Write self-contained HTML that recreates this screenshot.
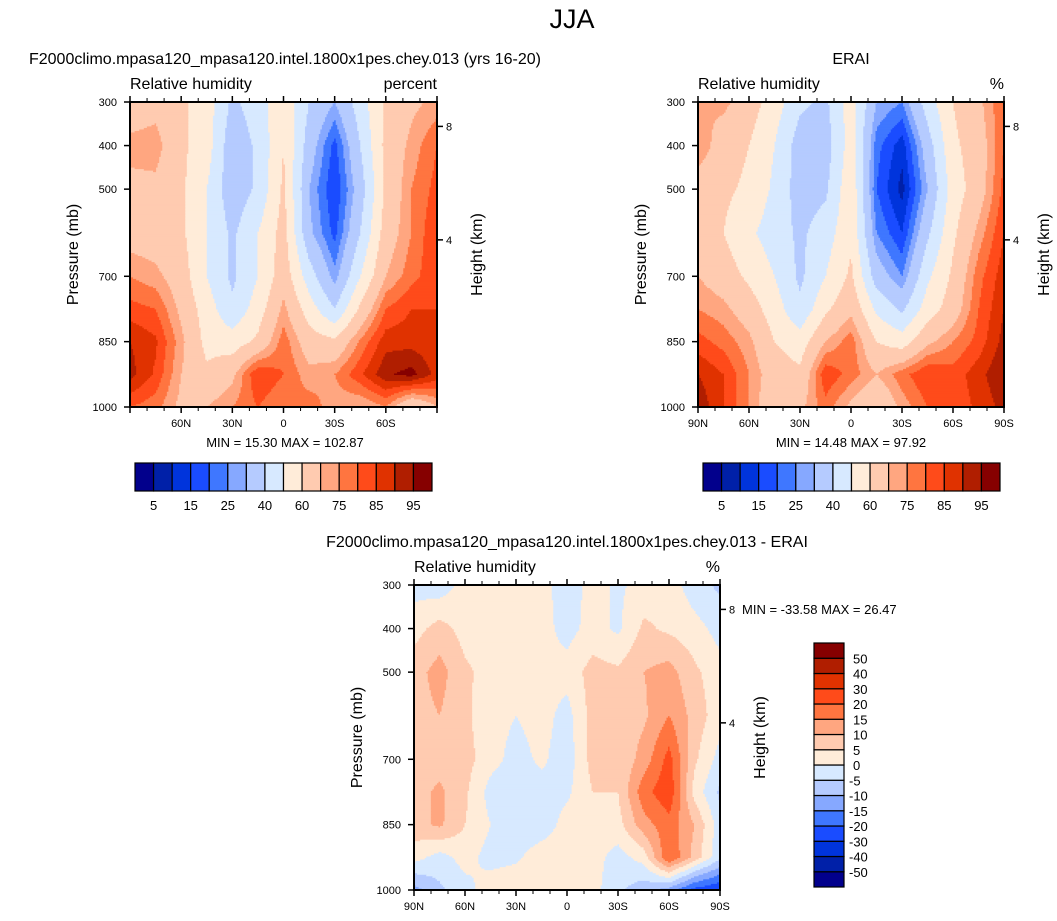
<!DOCTYPE html>
<html><head><meta charset="utf-8">
<style>
body{margin:0;background:#fff;}
svg{display:block;font-family:"Liberation Sans",sans-serif;}
</style></head>
<body>
<svg id="fig" width="1057" height="921" viewBox="0 0 1057 921" xmlns="http://www.w3.org/2000/svg">
<rect width="1057" height="921" fill="#fff"/>
<text x="572" y="28" font-size="27" text-anchor="middle">JJA</text>
<text x="285" y="64" font-size="16" text-anchor="middle">F2000climo.mpasa120_mpasa120.intel.1800x1pes.chey.013 (yrs 16-20)</text>
<text x="851" y="64" font-size="16" text-anchor="middle">ERAI</text>
<text x="567" y="547" font-size="16" text-anchor="middle">F2000climo.mpasa120_mpasa120.intel.1800x1pes.chey.013 - ERAI</text>
<g id="p1"></g>
<g id="p2"></g>
<g id="p3"></g>
</svg>
<script>
const NS="http://www.w3.org/2000/svg";
const lats=[90,75,60,45,30,15,0,-15,-30,-45,-60,-75,-90];
const plevs=[300,400,500,600,700,775,850,925,1000];
const rhModel=[
[65,67,62,55,38,45,58,40,30,45,62,68,72],
[72,73,62,55,33,42,60,35,18,40,63,72,80],
[68,68,62,50,33,42,62,30,15,35,62,75,82],
[66,65,62,50,38,50,64,32,18,40,65,75,85],
[75,72,65,50,38,50,66,45,27,50,70,78,84],
[82,80,68,55,42,55,72,55,40,62,80,85,85],
[90,86,72,57,55,62,78,65,62,76,88,88,86],
[92,84,70,62,68,85,80,72,75,84,94,97,88],
[80,77,68,70,75,80,75,78,72,70,75,60,70]];
const rhErai=[
[70,72,65,55,42,38,55,30,25,45,60,68,80],
[75,65,60,50,35,35,55,22,12,35,58,65,80],
[65,62,58,48,35,38,58,20,8,30,55,65,82],
[65,60,52,45,38,45,58,25,15,38,58,72,85],
[70,65,58,50,38,50,62,35,25,48,62,78,88],
[75,72,65,55,42,58,68,48,38,55,65,80,90],
[82,78,72,60,55,70,78,60,55,68,75,82,92],
[90,85,75,65,62,84,78,70,78,85,82,88,95],
[94,85,75,62,68,78,68,60,72,80,82,86,92]];
const rhDiff=[
[-2,-3,2,3,2,2,-3,2,-1,2,3,-3,-6],
[3,7,3,2,2,2,-2,2,-1,6,4,2,-2],
[8,12,6,3,2,2,2,7,6,10,12,6,2],
[8,10,6,2,0,2,-2,7,7,9,15,8,2],
[7,8,7,2,-2,1,-3,7,6,12,22,6,-2],
[8,11,6,-2,-4,-2,-1,5,5,18,24,3,-6],
[8,11,5,0,-4,-3,2,3,3,13,18,10,-3],
[2,-2,2,-2,-1,3,3,2,-2,2,20,8,-4],
[-12,-6,-2,3,4,2,2,2,-4,-8,-12,-22,-25]];
const rhLevels=[5,10,15,20,25,30,40,50,60,70,75,80,85,90,95];
const rhLabels=["5","15","25","40","60","75","85","95"];
const diffLevels=[-50,-40,-30,-20,-15,-10,-5,0,5,10,15,20,30,40,50];
const pTicks=[300,400,500,700,850,1000];
const hTicks=[8,4];
const latTicks=[90,60,30,0,-30,-60,-90];
const latLabels=["90N","60N","30N","0","30S","60S","90S"];
const colors=["#02008c","#0020a8","#0034dc","#1a4cff","#3f77ff","#86a8ff","#b5cbff","#d7e9ff","#ffecd9","#ffcbb0","#ffa680","#ff7540","#ff4b1a","#e03200","#b01e00","#860000"];

function el(tag,attrs,parent,txt){const e=document.createElementNS(NS,tag);for(const k in attrs)e.setAttribute(k,attrs[k]);if(txt!==undefined)e.textContent=txt;parent.appendChild(e);return e;}

function interp(data,lat,p){
  let fi=(90-lat)/15; let i0=Math.min(Math.floor(fi),lats.length-2); let tx=fi-i0;
  let j0=0; while(j0<plevs.length-2&&p>plevs[j0+1])j0++;
  let ty=(p-plevs[j0])/(plevs[j0+1]-plevs[j0]);
  const a=data[j0][i0],b=data[j0][i0+1],c=data[j0+1][i0],d=data[j0+1][i0+1];
  return (a*(1-tx)+b*tx)*(1-ty)+(c*(1-tx)+d*tx)*ty;
}
function colorIdx(v,levels){let k=0;while(k<levels.length&&v>=levels[k])k++;return k;}

function panel(g,x0,y0,w,h,data,levels,opts){
  const xs=lat=>x0+(90-lat)/180*w;
  const ys=p=>y0+(p-300)/700*h;
  const nx=200,ny=200;
  const cells=el('g',{},g);
  
  
  for(let j=0;j<ny;j++){
    const p=300+(j+0.5)/ny*700;
    let runStart=0,runC=-1;
    for(let i=0;i<=nx;i++){
      let c=-2;
      if(i<nx){const lat=90-(i+0.5)/nx*180;c=colorIdx(interp(data,lat,p),levels);}
      if(c!==runC){
        if(runC>=0){
          const r=el('rect',{x:(x0+runStart/nx*w).toFixed(2),y:(y0+j/ny*h).toFixed(2),width:((i-runStart)/nx*w+0.6).toFixed(2),height:(h/ny+0.6).toFixed(2),fill:colors[runC]},cells);
          
          
        }
        runStart=i;runC=c;
      }
    }
  }
  const f=el('rect',{x:x0,y:y0,width:w,height:h,fill:'none',stroke:'#000','stroke-width':2},g);
  
  pTicks.forEach(p=>{
    el('line',{x1:x0-6,x2:x0,y1:ys(p),y2:ys(p),stroke:'#000','stroke-width':1.5},g);
    const t=el('text',{x:x0-13,y:ys(p)+4,'font-size':11,'text-anchor':'end'},g,String(p));
    
  });
  hTicks.forEach(hk=>{
    const p=1013.25*Math.pow(1-2.25577e-5*hk*1000,5.25588);
    el('line',{x1:x0+w,x2:x0+w+6,y1:ys(p),y2:ys(p),stroke:'#000','stroke-width':1.5},g);
    const t=el('text',{x:x0+w+9,y:ys(p)+4,'font-size':11},g,String(hk));
    
  });
  for(let lat=90;lat>=-90;lat-=10){
    const major=lat%30===0;const L=major?6:4;
    el('line',{x1:xs(lat),x2:xs(lat),y1:y0-L,y2:y0,stroke:'#000','stroke-width':major?1.5:1},g);
    el('line',{x1:xs(lat),x2:xs(lat),y1:y0+h,y2:y0+h+L,stroke:'#000','stroke-width':major?1.5:1},g);
  }
  latTicks.forEach((lat,k)=>{
    if(!opts.edgeLabels&&(lat===90||lat===-90))return;
    const t=el('text',{x:xs(lat),y:y0+h+20,'font-size':11,'text-anchor':'middle'},g,latLabels[k]);
    
  });
  let t=el('text',{x:0,y:0,'font-size':16,'text-anchor':'middle',transform:`translate(${x0-52},${y0+h/2}) rotate(-90)`},g,'Pressure (mb)');
  
  t=el('text',{x:0,y:0,'font-size':16,'text-anchor':'middle',transform:`translate(${x0+w+45},${y0+h/2}) rotate(-90)`},g,'Height (km)');
  
  t=el('text',{x:x0,y:y0-13,'font-size':16},g,'Relative humidity');
  
  t=el('text',{x:x0+w,y:y0-13,'font-size':16,'text-anchor':'end'},g,opts.units);
  
  t=el('text',{x:opts.mmx,y:opts.mmy,'font-size':13,'text-anchor':opts.mmAnchor},g,opts.minmax);
  
}

function hbar(g,x0,y0,w,h){
  const bw=w/colors.length;
  colors.forEach((c,k)=>{
    const r=el('rect',{x:x0+k*bw,y:y0,width:bw,height:h,fill:c,stroke:'#000','stroke-width':1.2},g);
    
  });
  rhLabels.forEach((lb,k)=>{
    const t=el('text',{x:x0+(2*k+1)*bw,y:y0+h+19,'font-size':13,'text-anchor':'middle'},g,lb);
    
  });
}
function vbar(g,x0,y0,w,h){
  const bh=h/colors.length;
  colors.forEach((c,k)=>{
    const r=el('rect',{x:x0,y:y0+(colors.length-1-k)*bh,width:w,height:bh,fill:c,stroke:'#000','stroke-width':1.2},g);
    
  });
  diffLevels.forEach((lv,k)=>{
    const t=el('text',{x:x0+w+(lv<0?5:9),y:y0+(colors.length-1-k)*bh+5,'font-size':13},g,String(lv));
    
  });
}

const p1=document.getElementById('p1'),p2=document.getElementById('p2'),p3=document.getElementById('p3');
panel(p1,130,102,307,305,rhModel,rhLevels,{edgeLabels:false,units:'percent',minmax:'MIN =  15.30   MAX = 102.87',mmx:285,mmy:447,mmAnchor:'middle'});
panel(p2,698,102,306,305,rhErai,rhLevels,{edgeLabels:true,units:'%',minmax:'MIN =  14.48   MAX =  97.92',mmx:851,mmy:447,mmAnchor:'middle'});
panel(p3,414,585,306,305,rhDiff,diffLevels,{edgeLabels:true,units:'%',minmax:'MIN = -33.58   MAX =  26.47',mmx:742,mmy:614,mmAnchor:'start'});
hbar(p1,135,463,297,28);
hbar(p2,703,463,297,28);
vbar(p3,814,643,30,244);
</script>
</body></html>
